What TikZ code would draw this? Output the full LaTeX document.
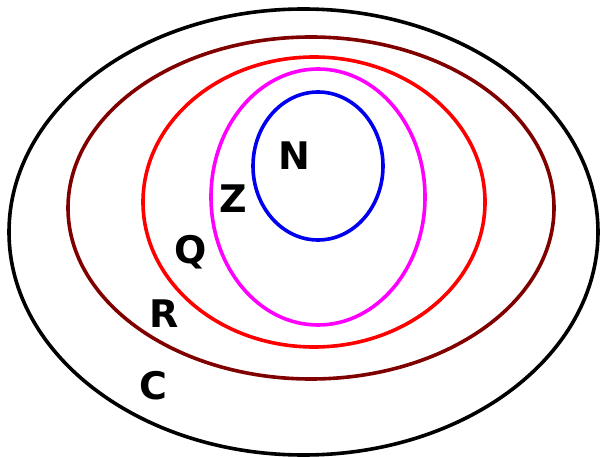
\documentclass[tikz,border=0pt]{standalone}
\usepackage{fontspec}
\setmainfont{DejaVu Sans}
\begin{document}
\begin{tikzpicture}[x=1pt,y=-1pt, every node/.style={font=\fontsize{38}{42}\selectfont\bfseries}]
  \definecolor{setC}{HTML}{000000}
  \definecolor{setR}{HTML}{800000}
  \definecolor{setQ}{HTML}{FF0000}
  \definecolor{setZ}{HTML}{FF00FF}
  \definecolor{setN}{HTML}{0000EE}
  \useasboundingbox (0,0) rectangle (605,457);
  \draw[setC, line width=3.6pt] (303.5,232) ellipse (294.5 and 223);
  \draw[setR, line width=3.6pt] (311,208) ellipse (243 and 171);
  \draw[setQ, line width=3.6pt] (314,202) ellipse (171 and 145);
  \draw[setZ, line width=3.6pt] (318,197) ellipse (107 and 128);
  \draw[setN, line width=3.6pt] (318,166) ellipse (65 and 74);
  \node (labN) at (294,156) {N};
  \node (labZ) at (233,199) {Z};
  \node (labQ) at (191,252) {Q};
  \node (labR) at (164,314) {R};
  \node (labC) at (153,386) {C};
\end{tikzpicture}
\end{document}
